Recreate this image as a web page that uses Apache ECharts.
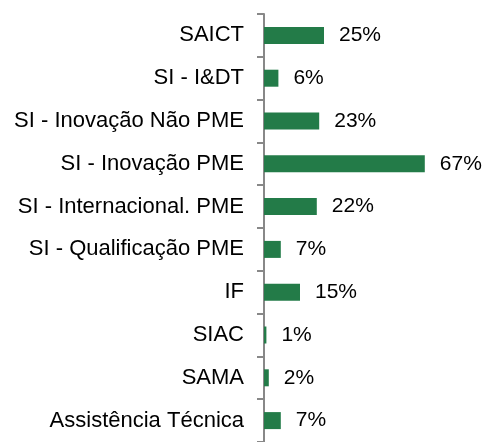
<!DOCTYPE html>
<html>
<head>
<meta charset="utf-8">
<script src="https://cdn.jsdelivr.net/npm/echarts@6/dist/echarts.min.js"></script>
<style>
html, body { margin: 0; padding: 0; background: #fff; }
#chart { width: 488px; height: 442px; }
</style>
</head>
<body>
<div id="chart"></div>
<script>
// categories top to bottom
var categories = ['SAICT', 'SI - I&DT', 'SI - Inovação Não PME', 'SI - Inovação PME', 'SI - Internacional. PME', 'SI - Qualificação PME', 'IF', 'SIAC', 'SAMA', 'Assistência Técnica']
var values = [25, 6, 23, 67, 22, 7, 15, 1, 2, 7]

var chart = echarts.init(document.getElementById('chart'))
chart.setOption({
  animation: false,
  grid: { left: 264, right: 32, top: 14, bottom: -2 },
  xAxis: {
    type: 'value',
    min: 0,
    max: 80,
    show: false
  },
  yAxis: {
    type: 'category',
    inverse: true,
    data: categories,
    axisLine: { show: true, lineStyle: { color: '#888', width: 2 } },
    axisTick: { show: true, inside: false, length: 7, lineStyle: { color: '#888', width: 2 } },
    axisLabel: { color: '#000', fontSize: 22, fontFamily: 'Liberation Sans', margin: 20 }
  },
  series: [{
    type: 'bar',
    data: values,
    barWidth: 17,
    itemStyle: { color: '#237B48' },
    label: {
      show: true,
      position: 'right',
      distance: 15,
      formatter: '{c}%',
      color: '#000',
      fontSize: 21,
      fontFamily: 'Liberation Sans'
    }
  }]
})
</script>
</body>
</html>
